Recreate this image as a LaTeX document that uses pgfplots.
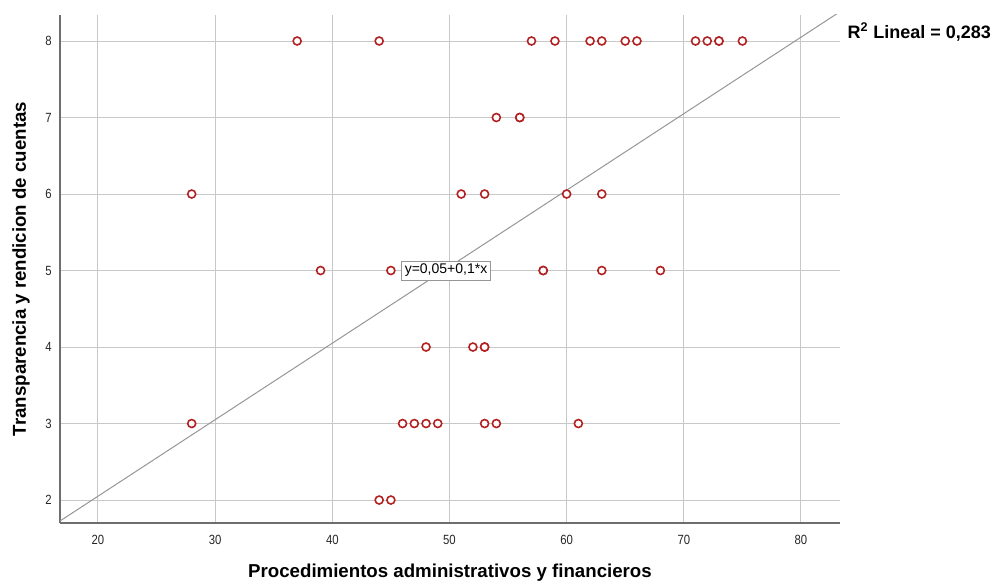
\documentclass[border=0pt]{standalone}
\usepackage{pgfplots}
\pgfplotsset{compat=1.18}
\usepackage{fontspec}
\setmainfont{Liberation Sans}
\newfontfamily\ticksans[FakeStretch=0.85]{Liberation Sans}

\definecolor{ptred}{RGB}{178,34,34}
\definecolor{gridgray}{RGB}{200,200,200}
\definecolor{fitgray}{RGB}{150,150,150}
\definecolor{axgray}{RGB}{110,110,110}

% Observed cases: x = procedimientos, y = transparencia
\pgfplotstableread{
x  y
37 8
44 8
57 8
59 8
62 8
63 8
65 8
66 8
71 8
72 8
73 8
73 8
75 8
54 7
56 7
56 7
28 6
51 6
53 6
60 6
63 6
39 5
45 5
58 5
58 5
63 5
68 5
48 4
52 4
53 4
53 4
28 3
46 3
47 3
48 3
49 3
53 3
54 3
61 3
44 2
45 2
}\casos

\begin{document}
\begin{tikzpicture}
\begin{axis}[
  name=ax,
  scale only axis,
  width=585pt, height=381pt,
  xmin=16.76, xmax=83.33,
  ymin=1.70, ymax=8.34,
  xtick={20,30,...,80},
  ytick={2,...,8},
  grid=major,
  major grid style={gridgray, line width=0.75pt},
  axis x line*=bottom,
  axis y line*=left,
  axis line style={axgray, line width=1.1pt, -},
  tick style={draw=none},
  /pgf/number format/assume math mode=true,
  ticklabel style={font=\ticksans\fontsize{10}{12}\selectfont, text=black!85},
  xticklabel style={yshift=-5.5pt},
  yticklabel style={xshift=-2.7pt},
  xlabel={Procedimientos administrativos y financieros},
  ylabel={Transparencia y rendicion de cuentas},
  label style={font=\bfseries\fontsize{14}{16}\selectfont},
  xlabel style={at={(axis description cs:0.5,-0.0985)}, anchor=center},
  ylabel style={at={(axis description cs:-0.0500,0.5)}, anchor=center},
]
% linear fit y = 0.05 + 0.1 x, drawn across the full x range
\addplot[fitgray, line width=0.75pt] coordinates {(16.76,1.726) (83.33,8.383)};

\addplot[only marks, mark=*, mark size=3pt,
  mark options={draw=ptred, fill=white, line width=1.2pt}]
  table[x=x, y=y] {\casos};

\node[draw=fitgray, fill=white, anchor=west, inner sep=2.3pt,
  font=\fontsize{10.5}{12}\selectfont] at (axis cs:45.9,5) {y=0,05+0,1*x};
\end{axis}

\node[anchor=base west, font=\bfseries\fontsize{13.5}{16}\selectfont]
  at ([xshift=2.25pt, yshift=-17.5pt]ax.north east) {R\textsuperscript{2} Lineal = 0,283};

\pgfresetboundingbox
\path ([xshift=-45pt, yshift=-45.75pt]ax.south west)
  rectangle ([xshift=116.25pt, yshift=11.25pt]ax.north east);
\end{tikzpicture}
\end{document}
